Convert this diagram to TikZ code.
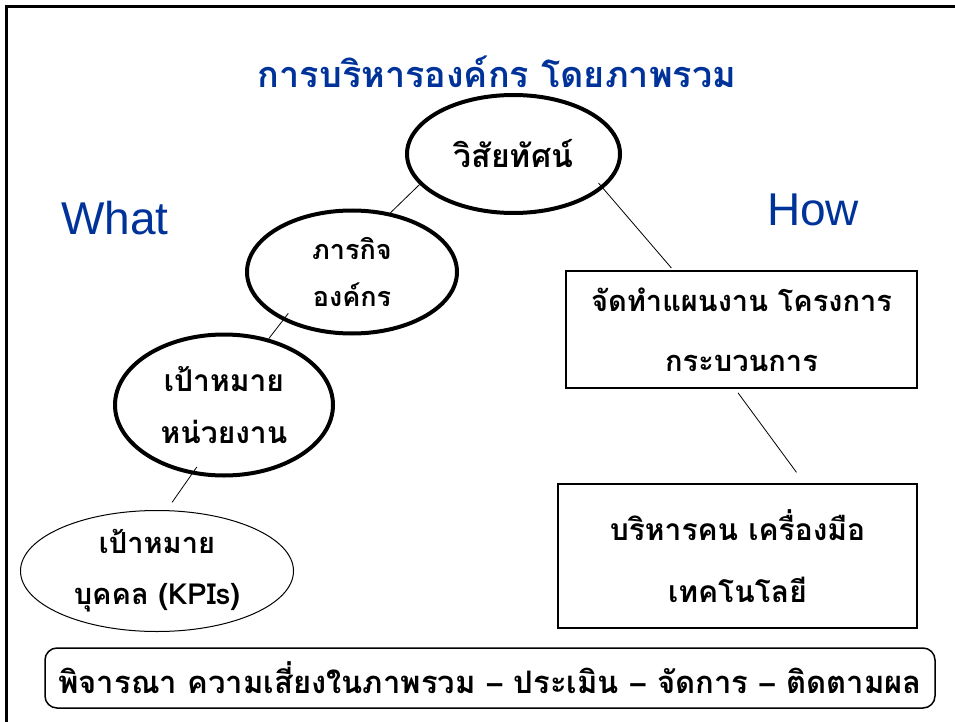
\documentclass[tikz,border=0pt]{standalone}
\usepackage{fontspec}
\setmainfont{Liberation Sans}
\newfontfamily\thaifont[Script=Thai]{Loma}
\usetikzlibrary{shapes.geometric}
\definecolor{headblue}{RGB}{0,51,153}

\tikzset{
  bigoval/.style={shape=ellipse, draw, line width=4pt, inner sep=0pt, align=center},
  thinoval/.style={shape=ellipse, draw, line width=1pt, inner sep=0pt, align=center},
  planbox/.style={shape=rectangle, draw, line width=1.5pt, inner sep=0pt, align=center},
  thaitext/.style 2 args={font=\thaifont\bfseries\fontsize{#1}{#2}\selectfont},
  link/.style={line width=0.8pt}
}

\begin{document}
\begin{tikzpicture}[x=1pt, y=-1pt]
\useasboundingbox (0,0) rectangle (955,722);
% frame (runs off the page right and bottom)
\draw[line width=3pt] (6,740) -- (6,7) -- (970,7);

\node[text=headblue, thaitext={36}{40}] (title) at (497,72) {การบริหารองค์กร โดยภาพรวม};
\node[text=headblue, font=\fontsize{46}{50}\selectfont] (what) at (115,218) {What};
\node[text=headblue, font=\fontsize{46}{50}\selectfont] (how) at (813,210) {How};

\node[bigoval, minimum width=213pt, minimum height=118pt, thaitext={32}{36}] (vision) at (513.5,154) {วิสัยทัศน์};
\node[bigoval, minimum width=210pt, minimum height=123pt, thaitext={27}{47}] (mission) at (352,272) {ภารกิจ\\องค์กร};
\node[bigoval, minimum width=218pt, minimum height=141pt, thaitext={30}{52}] (unit) at (224,405) {เป้าหมาย\\หน่วยงาน};
\node[thinoval, minimum width=273pt, minimum height=121pt, thaitext={29}{51}] (kpi) at (157,571) {เป้าหมาย\\บุคคล (KPIs)};

\node[planbox, minimum width=351pt, minimum height=117pt, thaitext={29}{60}] (plan) at (741.5,329.5) {จัดทำแผนงาน โครงการ\\กระบวนการ};
\node[planbox, minimum width=359pt, minimum height=144pt, thaitext={30}{62}] (tools) at (737.5,556) {บริหารคน เครื่องมือ\\เทคโนโลยี};

\node[draw, line width=1.5pt, rounded corners=12pt, minimum width=890pt, minimum height=60pt, inner sep=0pt, thaitext={31}{36}] (risk) at (490,678)
  {พิจารณา ความเสี่ยงในภาพรวม {\normalfont\bfseries –} ประเมิน {\normalfont\bfseries –} จัดการ {\normalfont\bfseries –} ติดตามผล};

\draw[link] (vision.198) -- (mission.57);
\draw[link, shorten <=-9pt] (mission.215) -- (unit.56);
\draw[link, shorten <=-9pt, shorten >=9.6pt] (unit.245) -- (kpi.81);
\draw[link, shorten <=-7pt, shorten >=3pt] (vision.339) -- (plan.139);
\draw[link, shorten <=5pt, shorten >=13.6pt] ([xshift=-6.5pt]plan.south) -- ([xshift=67pt]tools.north);
\end{tikzpicture}
\end{document}
